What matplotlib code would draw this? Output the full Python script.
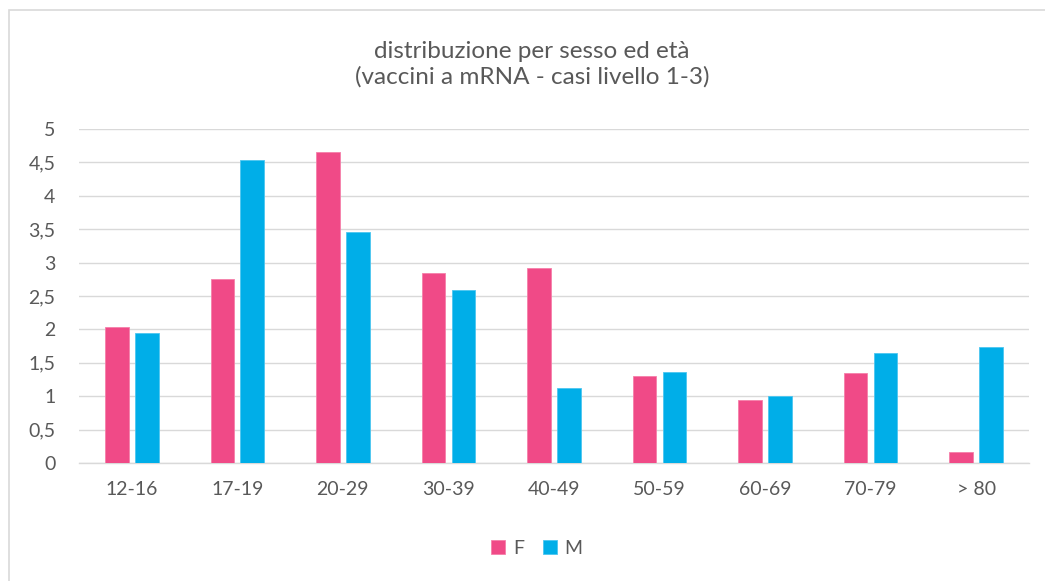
import matplotlib
matplotlib.use("Agg")
import matplotlib.pyplot as plt
import numpy as np
from matplotlib.patches import Rectangle

categories = ["12-16", "17-19", "20-29", "30-39", "40-49", "50-59", "60-69", "70-79", "> 80"]
values_f = [2.04, 2.76, 4.66, 2.84, 2.92, 1.30, 0.95, 1.34, 0.17]
values_m = [1.95, 4.53, 3.46, 2.59, 1.12, 1.36, 1.00, 1.64, 1.74]
yticks = [0, 0.5, 1, 1.5, 2, 2.5, 3, 3.5, 4, 4.5, 5]
ytick_labels = ["0", "0,5", "1", "1,5", "2", "2,5", "3", "3,5", "4", "4,5", "5"]
title = "distribuzione per sesso ed età\n(vaccini a mRNA - casi livello 1-3)"

PINK = "#F04A87"
BLUE = "#00AEE8"
TXT = "#595959"
GRID = "#D9D9D9"

plt.rcParams['font.family'] = ['Lato', 'DejaVu Sans']

W, H = 1045, 581
fig = plt.figure(figsize=(W / 100, H / 100), dpi=100)
ax = fig.add_axes([79 / W, 1 - 463 / H, (1029 - 79) / W, (463 - 129) / H])

x = np.arange(len(categories))
bw = 0.224
off = 0.142
ax.bar(x - off, values_f, bw, color=PINK, edgecolor="#F57FAA", linewidth=0.6, label="F", zorder=3)
ax.bar(x + off, values_m, bw, color=BLUE, edgecolor="#4CC6F0", linewidth=0.6, label="M", zorder=3)

ax.set_xlim(-0.5, len(categories) - 0.5)
ax.set_ylim(0, 5)
ax.set_yticks(yticks)
ax.set_yticklabels(ytick_labels)
ax.set_xticks(x)
ax.set_xticklabels(categories)
ax.grid(axis="y", color=GRID, linewidth=1.0, zorder=0)
ax.set_axisbelow(True)
for s in ["top", "right", "left"]:
    ax.spines[s].set_visible(False)
ax.spines["bottom"].set_color(GRID)
ax.spines["bottom"].set_linewidth(1.0)
ax.tick_params(axis="both", length=0, colors=TXT, labelsize=14)
ax.tick_params(axis="y", pad=17)
ax.tick_params(axis="x", pad=13)

fig.text(532 / W, 1 - 64 / H, title, ha="center", va="center", fontsize=17.5, color=TXT,
         linespacing=1.25)

leg = fig.legend(loc="center", bbox_to_anchor=(537 / W, 1 - 548 / H), ncol=2, frameon=False,
                 fontsize=14, handlelength=0.7, handleheight=0.7, handletextpad=0.4,
                 columnspacing=1.0)
for t in leg.get_texts():
    t.set_color(TXT)

fig.patches.append(Rectangle((9 / W, -0.1), 1.2, 1 - 10 / H + 0.1, transform=fig.transFigure,
                             fill=False, edgecolor="#D9D9D9", linewidth=1.2))

fig.savefig("out.png", dpi=100)
